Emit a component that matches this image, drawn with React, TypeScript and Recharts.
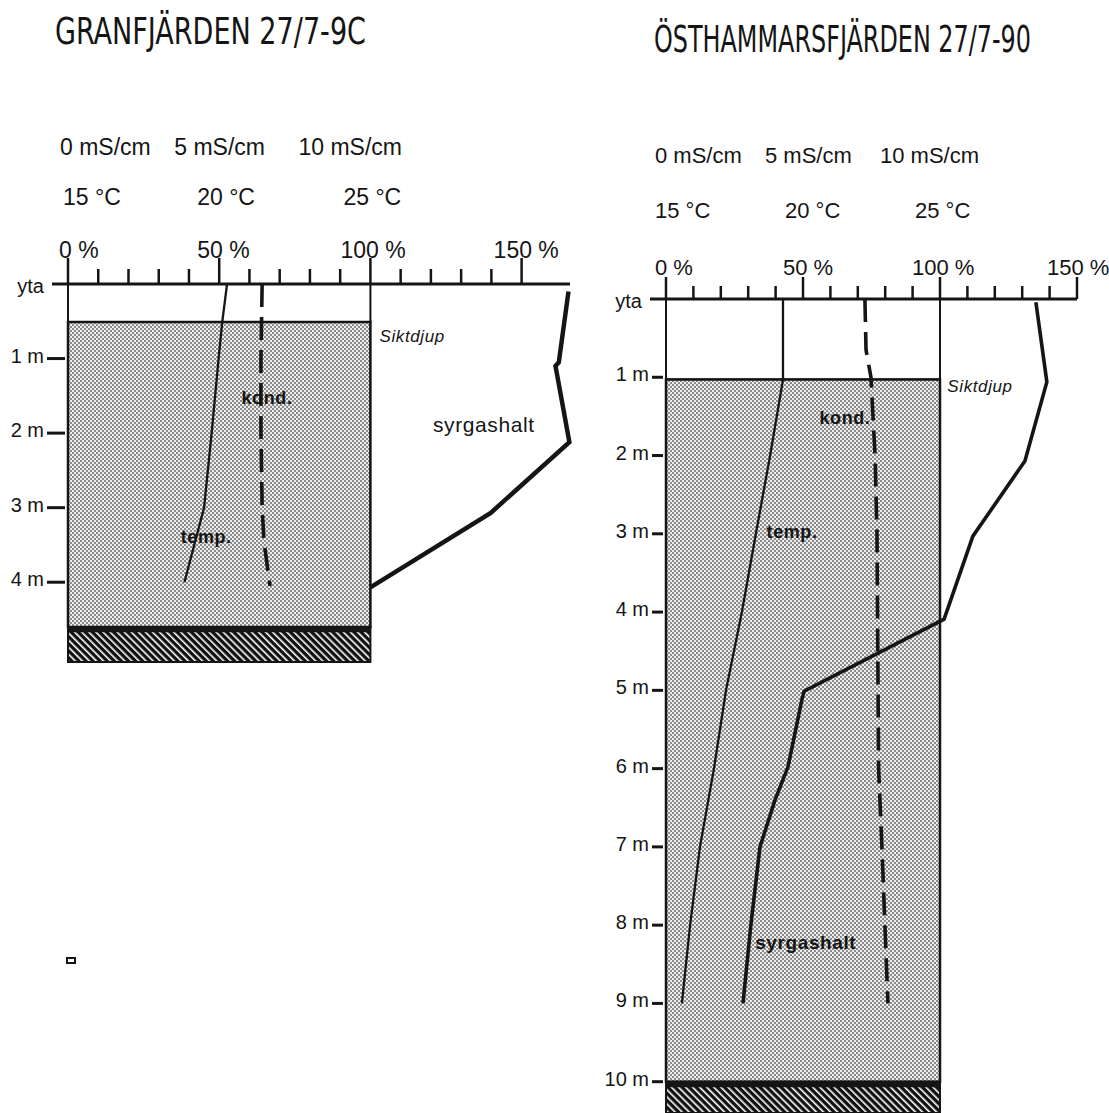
import { ComposedChart, Scatter, XAxis, YAxis, ReferenceArea } from "recharts";

// shared top axis: percent scale, with °C and mS/cm rows tied to 0/50/100 %
const pctTicks = [0, 10, 20, 30, 40, 50, 60, 70, 80, 90, 100, 110, 120, 130, 140, 150];
const pctTickLabels = ["0 %", "50 %", "100 %", "150 %"];
const tempTickLabels = ["15 °C", "20 °C", "25 °C"];
const kondTickLabels = ["0 mS/cm", "5 mS/cm", "10 mS/cm"];

// Granfjärden
const granDepthTicks = [0, 1, 2, 3, 4];
const granDepthLabels = ["yta", "1 m", "2 m", "3 m", "4 m"];
const granTempDepth = [0, 0.51, 1, 2, 3, 4.0];
const granTemp = [20.26, 20.1, 19.98, 19.75, 19.5, 18.85];
const granKondDepth = [0, 1, 2, 3, 3.45, 4.05];
const granKond = [6.42, 6.38, 6.38, 6.42, 6.48, 6.68];
const granSyrgDepth = [0.1, 1.05, 1.1, 2.12, 3.07, 4.07];
const granSyrg = [165.5, 162.3, 161.2, 165.8, 139.8, 100];
const granSiktdjup = 0.51;
const granBottom = 4.6;

// Östhammarsfjärden
const ostDepthTicks = [0, 1, 2, 3, 4, 5, 6, 7, 8, 9, 10];
const ostDepthLabels = ["yta", "1 m", "2 m", "3 m", "4 m", "5 m", "6 m", "7 m", "8 m", "9 m", "10 m"];
const ostTempDepth = [0, 1.03, 2, 3, 4, 5, 6, 7, 8, 9];
const ostTemp = [19.27, 19.27, 18.8, 18.28, 17.77, 17.19, 16.75, 16.24, 15.88, 15.58];
const ostKondDepth = [0, 0.65, 1.0, 2, 3, 4, 5, 6, 7, 8, 9];
const ostKond = [7.26, 7.3, 7.48, 7.63, 7.7, 7.72, 7.74, 7.76, 7.88, 7.99, 8.1];
const ostSyrgDepth = [0.04, 1.06, 2.07, 3.03, 4.09, 5.01, 5.12, 5.98, 6.4, 7.0, 7.99, 9.0];
const ostSyrg = [135, 139, 131, 112, 101.5, 50.4, 49.6, 44.5, 39.8, 34.3, 31, 28.1];
const ostSiktdjup = 1.03;
const ostBottom = 10.0;

const tempToPct = (t: number) => (t - 15) * 10;
const kondToPct = (k: number) => k * 10;
const asPct = (v: number) => v;

function toPoints(depths: number[], values: number[], conv: (v: number) => number) {
  return depths.map((d, i) => ({ d, x: conv(values[i]) }));
}

const FONT = "'Liberation Sans', Arial, sans-serif";
const TITLE_FONT = "'DejaVu Sans Condensed', 'Liberation Sans Narrow', 'DejaVu Sans', sans-serif";
const INK = "#151515";

type Annot = { text: string; x: number; d: number; size: number; weight?: number; italic?: boolean };

const granAnnots: Annot[] = [
  { text: "Siktdjup", x: 113.8, d: 0.7, size: 17, italic: true },
  { text: "kond.", x: 65.8, d: 1.53, size: 18, weight: 700 },
  { text: "syrgashalt", x: 137.5, d: 1.89, size: 21 },
  { text: "temp.", x: 45.7, d: 3.4, size: 18, weight: 700 },
];
const ostAnnots: Annot[] = [
  { text: "Siktdjup", x: 114.6, d: 1.12, size: 17, italic: true },
  { text: "kond.", x: 65.3, d: 1.52, size: 18, weight: 700 },
  { text: "temp.", x: 46, d: 2.98, size: 18, weight: 700 },
  { text: "syrgashalt", x: 51, d: 8.22, size: 19, weight: 700 },
];

type TopCfg = {
  major: number;
  minor: number;
  pctDy: number;
  tempDy: number;
  kondDy: number;
  fontSize: number;
  pctShift: number[];
  tempShift: number[];
  kondShift: number[];
};

function TopTick(props: any) {
  const { x, y, payload, cfg } = props as { x: number; y: number; payload: { value: number }; cfg: TopCfg };
  const v = payload.value;
  const major = v % 50 === 0;
  const i = v / 50;
  const txt = { fontFamily: FONT, fontSize: cfg.fontSize, fill: INK } as const;
  return (
    <g>
      <line x1={x} x2={x} y1={y} y2={y - (major ? cfg.major : cfg.minor)} stroke={INK} strokeWidth={2.5} />
      {major && (
        <text x={x - cfg.pctShift[i]} y={y + cfg.pctDy} {...txt}>
          {pctTickLabels[i]}
        </text>
      )}
      {major && tempTickLabels[i] && (
        <text x={x - cfg.tempShift[i]} y={y + cfg.tempDy} {...txt}>
          {tempTickLabels[i]}
        </text>
      )}
      {major && kondTickLabels[i] && (
        <text x={x - cfg.kondShift[i]} y={y + cfg.kondDy} {...txt}>
          {kondTickLabels[i]}
        </text>
      )}
    </g>
  );
}

function DepthTick(props: any) {
  const { x, y, payload, ticks, labels, dash, gap } = props;
  const v = payload.value;
  const label = labels[ticks.indexOf(v)];
  if (v === 0) {
    return (
      <g>
        <line x1={x - 16} x2={x} y1={y} y2={y} stroke={INK} strokeWidth={3} />
        <text x={x - 24} y={y + 9} textAnchor="end" fontFamily={FONT} fontSize={20} fill={INK}>
          {label}
        </text>
      </g>
    );
  }
  return (
    <g>
      <line x1={x - gap - dash} x2={x - gap} y1={y} y2={y} stroke={INK} strokeWidth={3} />
      <text x={x - gap - dash - 3} y={y + 4} textAnchor="end" fontFamily={FONT} fontSize={20} fill={INK}>
        {label}
      </text>
    </g>
  );
}

function AnnotShape(props: any) {
  const { cx, cy, payload } = props;
  const a = payload as Annot;
  return (
    <text
      x={cx}
      y={cy}
      textAnchor="middle"
      dominantBaseline="central"
      fontFamily={FONT}
      fontSize={a.size}
      fontWeight={a.weight ?? 400}
      fontStyle={a.italic ? "italic" : "normal"}
      letterSpacing={0.6}
      fill={INK}
    >
      {a.text}
    </text>
  );
}

const noDot = () => <g />;

type ProfileProps = {
  id: string;
  width: number;
  height: number;
  axisTop: number;
  yAxisWidth: number;
  marginRight: number;
  marginBottom: number;
  xMax: number;
  yMax: number;
  depthTicks: number[];
  depthLabels: string[];
  depthDash: number;
  depthGap: number;
  siktdjup: number;
  bottom: number;
  temp: { d: number; x: number }[];
  kond: { d: number; x: number }[];
  syrg: { d: number; x: number }[];
  syrgWidth: number;
  annots: Annot[];
  top: TopCfg;
};

function Profile(p: ProfileProps) {
  return (
    <ComposedChart
      width={p.width}
      height={p.height}
      margin={{ top: 0, left: 0, right: p.marginRight, bottom: p.marginBottom }}
    >
      <defs>
        <pattern id={`dots-${p.id}`} width="4" height="4" patternUnits="userSpaceOnUse">
          <rect width="4" height="4" fill="#ededed" />
          <rect width="2" height="2" fill="#8c8c8c" />
          <rect x="2" y="2" width="2" height="2" fill="#8c8c8c" />
        </pattern>
        <pattern
          id={`hatch-${p.id}`}
          width="5"
          height="5"
          patternUnits="userSpaceOnUse"
          patternTransform="rotate(-45)"
        >
          <rect width="5" height="5" fill="#111" />
          <rect width="1.6" height="5" fill="#fff" />
        </pattern>
      </defs>
      <XAxis
        type="number"
        dataKey="x"
        orientation="top"
        domain={[0, p.xMax]}
        ticks={pctTicks}
        interval={0}
        height={p.axisTop}
        axisLine={{ stroke: INK, strokeWidth: 3 }}
        tickLine={false}
        tickSize={0}
        tickMargin={0}
        tick={<TopTick cfg={p.top} />}
      />
      <YAxis
        type="number"
        dataKey="d"
        reversed
        domain={[0, p.yMax]}
        ticks={p.depthTicks}
        interval={0}
        width={p.yAxisWidth}
        axisLine={false}
        tickLine={false}
        tickSize={0}
        tickMargin={0}
        tick={<DepthTick ticks={p.depthTicks} labels={p.depthLabels} dash={p.depthDash} gap={p.depthGap} />}
      />
      <ReferenceArea x1={0} x2={100} y1={0} y2={p.siktdjup} fill="#fff" fillOpacity={1} stroke={INK} strokeWidth={2} />
      <ReferenceArea
        x1={0}
        x2={100}
        y1={p.siktdjup}
        y2={p.bottom}
        fill={`url(#dots-${p.id})`}
        fillOpacity={1}
        stroke={INK}
        strokeWidth={2.5}
      />
      <ReferenceArea
        x1={0}
        x2={100}
        y1={p.bottom}
        y2={p.yMax}
        fill={`url(#hatch-${p.id})`}
        fillOpacity={1}
        stroke={INK}
        strokeWidth={2}
      />
      <ReferenceArea x1={0} x2={100} y1={p.bottom} y2={p.bottom + 0.07} fill={INK} fillOpacity={1} />
      <Scatter
        name="temp"
        data={p.temp}
        line={{ stroke: INK, strokeWidth: 2.3 }}
        lineType="joint"
        shape={noDot}
        isAnimationActive={false}
      />
      <Scatter
        name="kond"
        data={p.kond}
        line={{ stroke: INK, strokeWidth: 3.6, strokeDasharray: "23 10" }}
        lineType="joint"
        shape={noDot}
        isAnimationActive={false}
      />
      <Scatter
        name="syrgashalt"
        data={p.syrg}
        line={{ stroke: INK, strokeWidth: p.syrgWidth, strokeLinejoin: "miter" }}
        lineType="joint"
        shape={noDot}
        isAnimationActive={false}
      />
      <Scatter name="labels" data={p.annots} shape={AnnotShape} isAnimationActive={false} />
    </ComposedChart>
  );
}

function Title({ x, y, text, width }: { x: number; y: number; text: string; width: number }) {
  return (
    <text
      transform={`translate(${x},${y}) scale(1,1.4)`}
      x={0}
      y={0}
      fontFamily={TITLE_FONT}
      fontSize={26}
      textLength={width}
      lengthAdjust="spacingAndGlyphs"
      fill={INK}
    >
      {text}
    </text>
  );
}

export default function App() {
  return (
    <div
      style={{
        position: "absolute",
        left: 0,
        top: 0,
        width: 1109,
        height: 1113,
        background: "#fff",
        overflow: "hidden",
      }}
    >
      <svg width={1109} height={110} style={{ position: "absolute", left: 0, top: 0 }}>
        <Title x={55} y={44} text="GRANFJÄRDEN 27/7-9C" width={311} />
        <Title x={654} y={52} text="ÖSTHAMMARSFJÄRDEN 27/7-90" width={377} />
      </svg>

      <div style={{ position: "absolute", left: 0, top: 0 }}>
        <Profile
          id="gran"
          width={600}
          height={680}
          axisTop={284}
          yAxisWidth={68}
          marginRight={30}
          marginBottom={18}
          xMax={166}
          yMax={5.07}
          depthTicks={granDepthTicks}
          depthLabels={granDepthLabels}
          depthDash={18}
          depthGap={3}
          siktdjup={granSiktdjup}
          bottom={granBottom}
          temp={toPoints(granTempDepth, granTemp, tempToPct)}
          kond={toPoints(granKondDepth, granKond, kondToPct)}
          syrg={toPoints(granSyrgDepth, granSyrg, asPct)}
          syrgWidth={4.5}
          annots={granAnnots}
          top={{
            major: 26,
            minor: 15,
            pctDy: -26,
            tempDy: -79,
            kondDy: -129,
            fontSize: 23,
            pctShift: [9, 22, 30, 28],
            tempShift: [5, 22, 27],
            kondShift: [8, 45, 72],
          }}
        />
      </div>

      <div style={{ position: "absolute", left: 580, top: 0 }}>
        <Profile
          id="ost"
          width={529}
          height={1113}
          axisTop={299}
          yAxisWidth={86}
          marginRight={32}
          marginBottom={0}
          xMax={150}
          yMax={10.4}
          depthTicks={ostDepthTicks}
          depthLabels={ostDepthLabels}
          depthDash={11}
          depthGap={3}
          siktdjup={ostSiktdjup}
          bottom={ostBottom}
          temp={toPoints(ostTempDepth, ostTemp, tempToPct)}
          kond={toPoints(ostKondDepth, ostKond, kondToPct)}
          syrg={toPoints(ostSyrgDepth, ostSyrg, asPct)}
          syrgWidth={3.6}
          annots={ostAnnots}
          top={{
            major: 22,
            minor: 13,
            pctDy: -24,
            tempDy: -81,
            kondDy: -136,
            fontSize: 22,
            pctShift: [11, 20, 28, 30],
            tempShift: [11, 18, 25],
            kondShift: [11, 38, 60],
          }}
        />
      </div>

      <div
        style={{
          position: "absolute",
          left: 66,
          top: 957,
          width: 6,
          height: 3,
          border: "2px solid #151515",
        }}
      />
    </div>
  );
}
